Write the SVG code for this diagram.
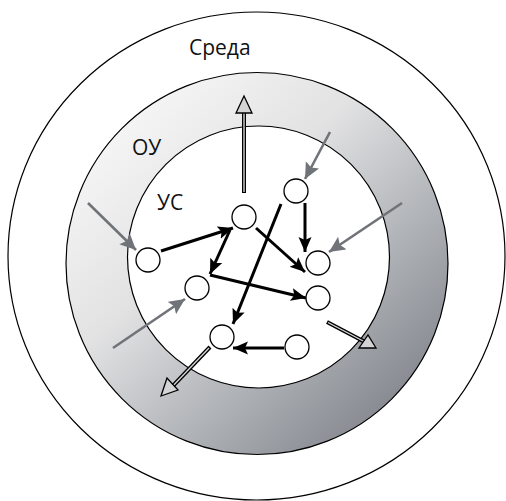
<svg xmlns="http://www.w3.org/2000/svg" width="506" height="501" viewBox="0 0 506 501">
  <defs>
    <linearGradient id="ringGrad" x1="0.15" y1="0.1" x2="0.9" y2="0.9">
      <stop offset="0" stop-color="#f6f6f6"/>
      <stop offset="0.35" stop-color="#e2e2e3"/>
      <stop offset="0.65" stop-color="#b3b6ba"/>
      <stop offset="1" stop-color="#80838a"/>
    </linearGradient>
    <marker id="blackHead" markerUnits="userSpaceOnUse" markerWidth="17" markerHeight="15" refX="15" refY="6.5" orient="auto">
      <path d="M0,0 L15,6.5 L0,13 L3,6.5 z" fill="#000"/>
    </marker>
    <marker id="grayHead" markerUnits="userSpaceOnUse" markerWidth="19" markerHeight="17" refX="16" refY="7.5" orient="auto">
      <path d="M0,0 L16,7.5 L0,15 L3,7.5 z" fill="#707378"/>
    </marker>
  </defs>
  <style>
    .ring { stroke: #000; stroke-width: 1.2; }
    .node circle { fill: #fff; stroke: #000; stroke-width: 1.3; }
    .flow { stroke: #000; stroke-width: 3; fill: none; marker-end: url(#blackHead); }
    .input { stroke: #707378; stroke-width: 2.6; fill: none; marker-end: url(#grayHead); }
    .outShaftOuter { stroke: #000; stroke-width: 4; fill: none; }
    .outShaftInner { stroke: #d6d6d6; stroke-width: 1.4; fill: none; }
    .outHead { fill: #d4d4d4; stroke: #000; stroke-width: 1.3; stroke-linejoin: miter; }
    .label { font-family: "Open Sans", "Liberation Sans", sans-serif; font-size: 21px; fill: #111; }
  </style>

  <!-- Environment, control object, control system -->
  <g id="env">
    <ellipse cx="256.5" cy="256" rx="248.5" ry="244" fill="#fff" class="ring"/>
  </g>
  <g id="ou">
    <circle cx="257" cy="263.5" r="191" fill="url(#ringGrad)" class="ring"/>
  </g>
  <g id="us">
    <circle cx="258.5" cy="257" r="131" fill="#fff" class="ring"/>
  </g>

  <text class="label" x="189" y="55">Среда</text>
  <text class="label" x="132" y="155">ОУ</text>
  <text class="label" x="157" y="210">УС</text>

  <g id="connectors">
    <!-- internal flows -->
    <line class="flow" x1="161" y1="251" x2="233" y2="228"/>
    <line class="flow" x1="230" y1="230" x2="210" y2="274"/>
    <line class="flow" x1="210" y1="275" x2="306" y2="298"/>
    <line class="flow" x1="256" y1="228" x2="305" y2="272"/>
    <line class="flow" x1="305" y1="203" x2="305" y2="252"/>
    <line class="flow" x1="281" y1="204" x2="233" y2="324"/>
    <line class="flow" x1="284" y1="348" x2="233" y2="348"/>
    <!-- inputs from environment -->
    <line class="input" x1="88" y1="203" x2="136" y2="250"/>
    <line class="input" x1="330" y1="132" x2="305" y2="179"/>
    <line class="input" x1="402" y1="203" x2="329" y2="252"/>
    <line class="input" x1="113" y1="348" x2="185" y2="299"/>
    <!-- outputs -->
    <g id="out-top">
      <line class="outShaftOuter" x1="244" y1="193" x2="244" y2="105"/>
      <line class="outShaftInner" x1="244" y1="192" x2="244" y2="105"/>
      <polygon class="outHead" points="244,96 252,113 236,113"/>
    </g>
    <g id="out-left">
      <line class="outShaftOuter" x1="210" y1="347" x2="170" y2="389"/>
      <line class="outShaftInner" x1="209" y1="348" x2="170" y2="389"/>
      <polygon class="outHead" points="161,396 178,390 167,378"/>
    </g>
    <g id="out-right">
      <line class="outShaftOuter" x1="327" y1="322" x2="365" y2="342"/>
      <line class="outShaftInner" x1="328" y1="322.5" x2="365" y2="342"/>
      <polygon class="outHead" points="359,348 376,348 368,335"/>
    </g>
  </g>

  <g id="n1" class="node"><circle cx="148" cy="260" r="12"/></g>
  <g id="n2" class="node"><circle cx="244" cy="217" r="12"/></g>
  <g id="n3" class="node"><circle cx="296" cy="191" r="12"/></g>
  <g id="n4" class="node"><circle cx="318" cy="263" r="12"/></g>
  <g id="n5" class="node"><circle cx="318" cy="298" r="12"/></g>
  <g id="n6" class="node"><circle cx="197" cy="288" r="12"/></g>
  <g id="n7" class="node"><circle cx="222" cy="337" r="12"/></g>
  <g id="n8" class="node"><circle cx="297" cy="347" r="12"/></g>
</svg>
